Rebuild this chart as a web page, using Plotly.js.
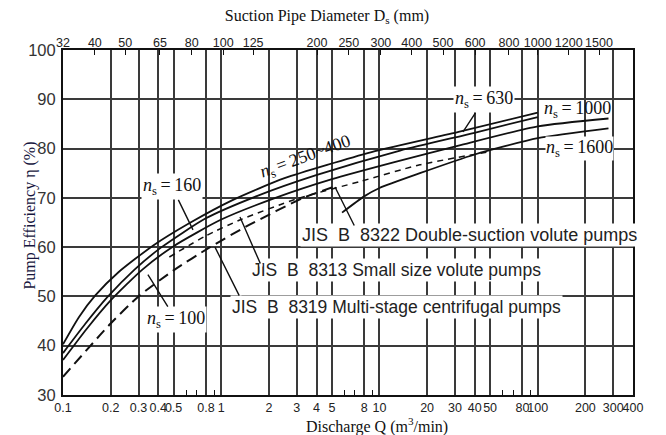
<!DOCTYPE html>
<html><head><meta charset="utf-8">
<script src="https://cdn.plot.ly/plotly-3.0.1.min.js"></script>
<style>html,body{margin:0;padding:0;background:#fff}#chart{width:666px;height:435px}</style>
</head><body><div id="chart"></div>
<script>
// ---- axis ticks ----
const qTicks = [0.1,0.2,0.3,0.4,0.5,0.8,1,2,3,4,5,8,10,20,30,40,50,80,100,200,300,400];
const qTickText = ['0.1','0.2','0.3','0.4','0.5','0.8','1','2','3','4','5','8','10','20','30','40','50','80','100','200','300','400'];
const qMinor = [0.6,0.7,0.9,6,7,9,60,70,90];
const dsLabels = ['32','40','50','65','80','100','125','200','250','300','400','500','600','800','1000','1200','1500'];
const dsAtQ = [0.1,0.159,0.247,0.41,0.65,1.03,1.59,4.03,6.4,10.2,16,25.2,40.2,65.8,100,157,244];
const etaTicks = [30,40,50,60,70,80,90,100];

// ---- curves (Q m3/min, efficiency %) ----
const ns250Q   = [0.1,0.126,0.16,0.224,0.37,0.631,1.17,2.51,8.91,31.6,100];
const ns250Eta = [40.3,45.8,50.2,54.9,60.3,64.9,69.5,74,79.3,83.4,87.3];
const ns160Q   = [0.1,0.138,0.19,0.282,0.42,0.794,1.66,3.98,13.5,39.8,100];
const ns160Eta = [38.5,44.4,49.8,55.4,60,65.8,70.3,74.6,79.6,83.2,86.4];
const ns100Q   = [0.1,0.141,0.2,0.316,0.5,1.0,2.2,5.01,12.6,31.6,100,280];
const ns100Eta = [37.1,43.4,49.2,55.4,60.2,65.6,70,73.8,77.3,80.6,84.5,86.1];
const smallQ   = [0.47,0.8,1.31,3,7.5,18,50];
const smallEta = [58,62.3,65.5,69.8,73.3,76.7,79.4];
const multiQ   = [0.1,0.2,0.3,0.5,0.85,1.5,3.3,5.2];
const multiEta = [33.7,44.5,50,55.3,60,64.5,70,72.3];
const ns1600Q  = [5.8,8,10,18,40,100,280];
const ns1600Eta= [67,70.3,72,75,78.8,82.1,84.1];

const L = Math.log10;
const solid = {color:'#111', width:1.8, shape:'spline', smoothing:0.6};
function tr(x,y,line){return {x:x,y:y,mode:'lines',line:line,hoverinfo:'skip',showlegend:false,xaxis:'x',yaxis:'y'};}
const traces = [
  tr(ns250Q,ns250Eta,solid),
  tr(ns160Q,ns160Eta,solid),
  tr(ns100Q,ns100Eta,solid),
  tr(ns1600Q,ns1600Eta,solid),
  tr(smallQ,smallEta,{color:'#111',width:1.5,dash:'6px,5px',shape:'spline',smoothing:0.6}),
  tr(multiQ,multiEta,{color:'#111',width:2,dash:'11px,6px',shape:'spline',smoothing:0.6}),
  {x:[0.1,400],y:[null,null],mode:'lines',xaxis:'x2',yaxis:'y',showlegend:false,hoverinfo:'skip'}
];

const serif = 'Liberation Serif, Times New Roman, serif';
const sans = 'Liberation Sans, Arial, sans-serif';
const nsFont = {family:serif,size:18,color:'#111'};
const jisFont = {family:sans,size:17.5,color:'#222'};
const clear = 'rgba(0,0,0,0)';

function ns(v){return '<i>n</i><sub>s</sub>\u2009=\u2009' + v;}
const ann = [
  {x:L(0.663),y:63.5,ax:-21,ay:-43,text:ns('160'),font:nsFont},
  {x:L(0.344),y:54.4,ax:28,ay:45,text:ns('100'),font:nsFont},
  {x:0.53,y:78.2,text:ns('250~400'),showarrow:false,textangle:-20,font:nsFont,bgcolor:clear},
  {x:L(33.7),y:83.4,ax:21,ay:-32,text:ns('630'),font:nsFont},
  {x:2.254,y:88.0,text:ns('1000'),showarrow:false,font:nsFont,bgcolor:clear},
  {x:2.267,y:80.1,text:ns('1600'),showarrow:false,font:nsFont,borderpad:0},
  {x:0.4976,y:62.5,text:'JIS  B  8322 Double-suction volute pumps',showarrow:false,xanchor:'left',font:{family:sans,size:18,color:'#222'}},
  {x:0.1817,y:55.4,text:'JIS  B  8313 Small size volute pumps',showarrow:false,xanchor:'left',font:jisFont},
  {x:0.0553,y:47.9,text:'JIS  B  8319 Multi-stage centrifugal pumps',showarrow:false,xanchor:'left',font:jisFont},
  {x:0.7188,y:72.2,ax:20,ay:40,text:''},
  {x:0.1185,y:66.1,ax:21,ay:48,text:''},
  {x:-0.0395,y:60.0,ax:25,ay:50,text:''},
  {xref:'paper',yref:'paper',x:0.551,y:-0.087,xanchor:'center',yanchor:'middle',bgcolor:clear,
    text:'Discharge Q (m<sup>3</sup>/min)',showarrow:false,font:{family:serif,size:16,color:'#111'}},
  {xref:'paper',yref:'paper',x:-0.058,y:0.52,xanchor:'center',yanchor:'middle',bgcolor:clear,
    text:'Pump Efficiency η (%)',textangle:-90,showarrow:false,font:{family:serif,size:16,color:'#16163e'}}
].map(a=>Object.assign({xref:'x',yref:'y',axref:'pixel',ayref:'pixel',bgcolor:'#fff',borderpad:1,
  arrowhead:0,arrowwidth:1.4,arrowcolor:'#111',showarrow:true},a));

const layout = {
  width:666,height:435,
  margin:{l:63,r:33,t:50,b:40},
  paper_bgcolor:'#fff',plot_bgcolor:'#fff',
  showlegend:false,
  title:{text:'Suction Pipe Diameter D<sub>s</sub> (mm)',xref:'container',x:0.491,yref:'container',y:0.965,yanchor:'middle',
    font:{family:serif,size:16,color:'#111'}},
  xaxis:{type:'log',range:[-1,L(400)],autorange:false,tickmode:'array',tickvals:qTicks,ticktext:qTickText,
    tickangle:0,ticks:'',showgrid:true,gridcolor:'#3a3a3a',gridwidth:1.5,zeroline:false,
    showline:true,linecolor:'#111',linewidth:2,mirror:true,
    tickfont:{family:sans,size:12.5,color:'#222'},
    minor:{tickmode:'array',tickvals:qMinor,ticks:'inside',ticklen:5,tickwidth:1.3,tickcolor:'#111',showgrid:false}},
  xaxis2:{type:'log',overlaying:'x',side:'top',anchor:'y',range:[-1,L(400)],autorange:false,
    tickmode:'array',tickvals:dsAtQ,ticktext:dsLabels,tickangle:0,ticks:'inside',ticklen:5,tickwidth:1.3,tickcolor:'#111',
    showgrid:false,zeroline:false,showline:false,tickfont:{family:sans,size:12.5,color:'#222'}},
  yaxis:{range:[30,100],autorange:false,tickmode:'array',tickvals:etaTicks,ticks:'',showgrid:true,gridcolor:'#3a3a3a',gridwidth:1.5,
    zeroline:false,showline:true,linecolor:'#111',linewidth:2,mirror:true,ticklabelstandoff:2,
    tickfont:{family:sans,size:16.5,color:'#333'}},
  annotations:ann
};
Plotly.newPlot('chart',traces,layout,{displayModeBar:false});
</script></body></html>
